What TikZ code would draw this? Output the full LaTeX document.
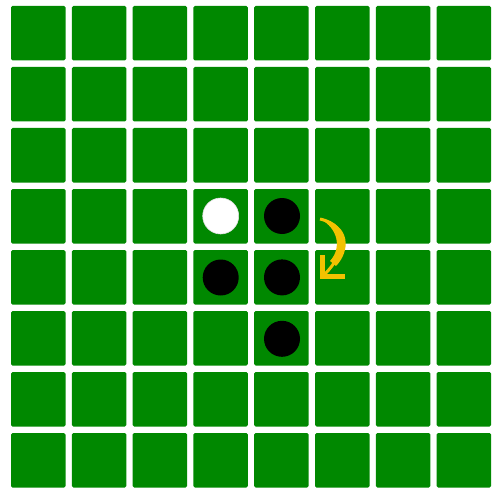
\documentclass[tikz,border=0pt]{standalone}
\usepackage{xcolor}
\usepackage{tikz}
\usetikzlibrary{positioning, arrows.meta}

\definecolor{boardgreen}{RGB}{0,136,0}
\definecolor{arrowgold}{RGB}{242,194,0}

\begin{document}
\begin{tikzpicture}[x=1pt, y=-1pt,
    cell/.style={fill=boardgreen, rounded corners=1.5pt},
    disc/.style={circle, minimum size=36pt, inner sep=0pt},
    blackdisc/.style={disc, fill=black},
    whitedisc/.style={disc, fill=white, draw=black!12, line width=0.6pt},
    turn/.style={draw=arrowgold, line width=3pt,
      -{Straight Barb[angle=90:22pt, line width=5pt]}}]
    % Background
    \fill[white] (0,0) rectangle (494,489);
    \useasboundingbox (0,0) rectangle (494,489);

    % Board
    \foreach \c in {0,...,7}
      \foreach \r in {0,...,7}
        \fill[cell] (11+60.8*\c, 6+61*\r) rectangle ++(54.5,54.5);

    % Discs
    \node (w1) [whitedisc] at (220.7,216) {};
    \node (b1) [blackdisc, right=24.8pt of w1] {};
    \node (b2) [blackdisc, below=25pt of w1] {};
    \node (b3) [blackdisc, below=25pt of b1] {};
    \node (b4) [blackdisc, below=25pt of b3] {};

    % Turn arrow
    \coordinate (turnA) at (320,219);
    \coordinate (turnB) at (320,279);
    \fill[arrowgold] (turnA) .. controls (352,224) and (350,252) .. (336,266)
      -- (330,261) .. controls (342,248) and (338,228) .. (turnA) -- cycle;
    \draw[turn] (turnA) .. controls (351,226) and (346,253) .. (turnB);
\end{tikzpicture}
\end{document}
